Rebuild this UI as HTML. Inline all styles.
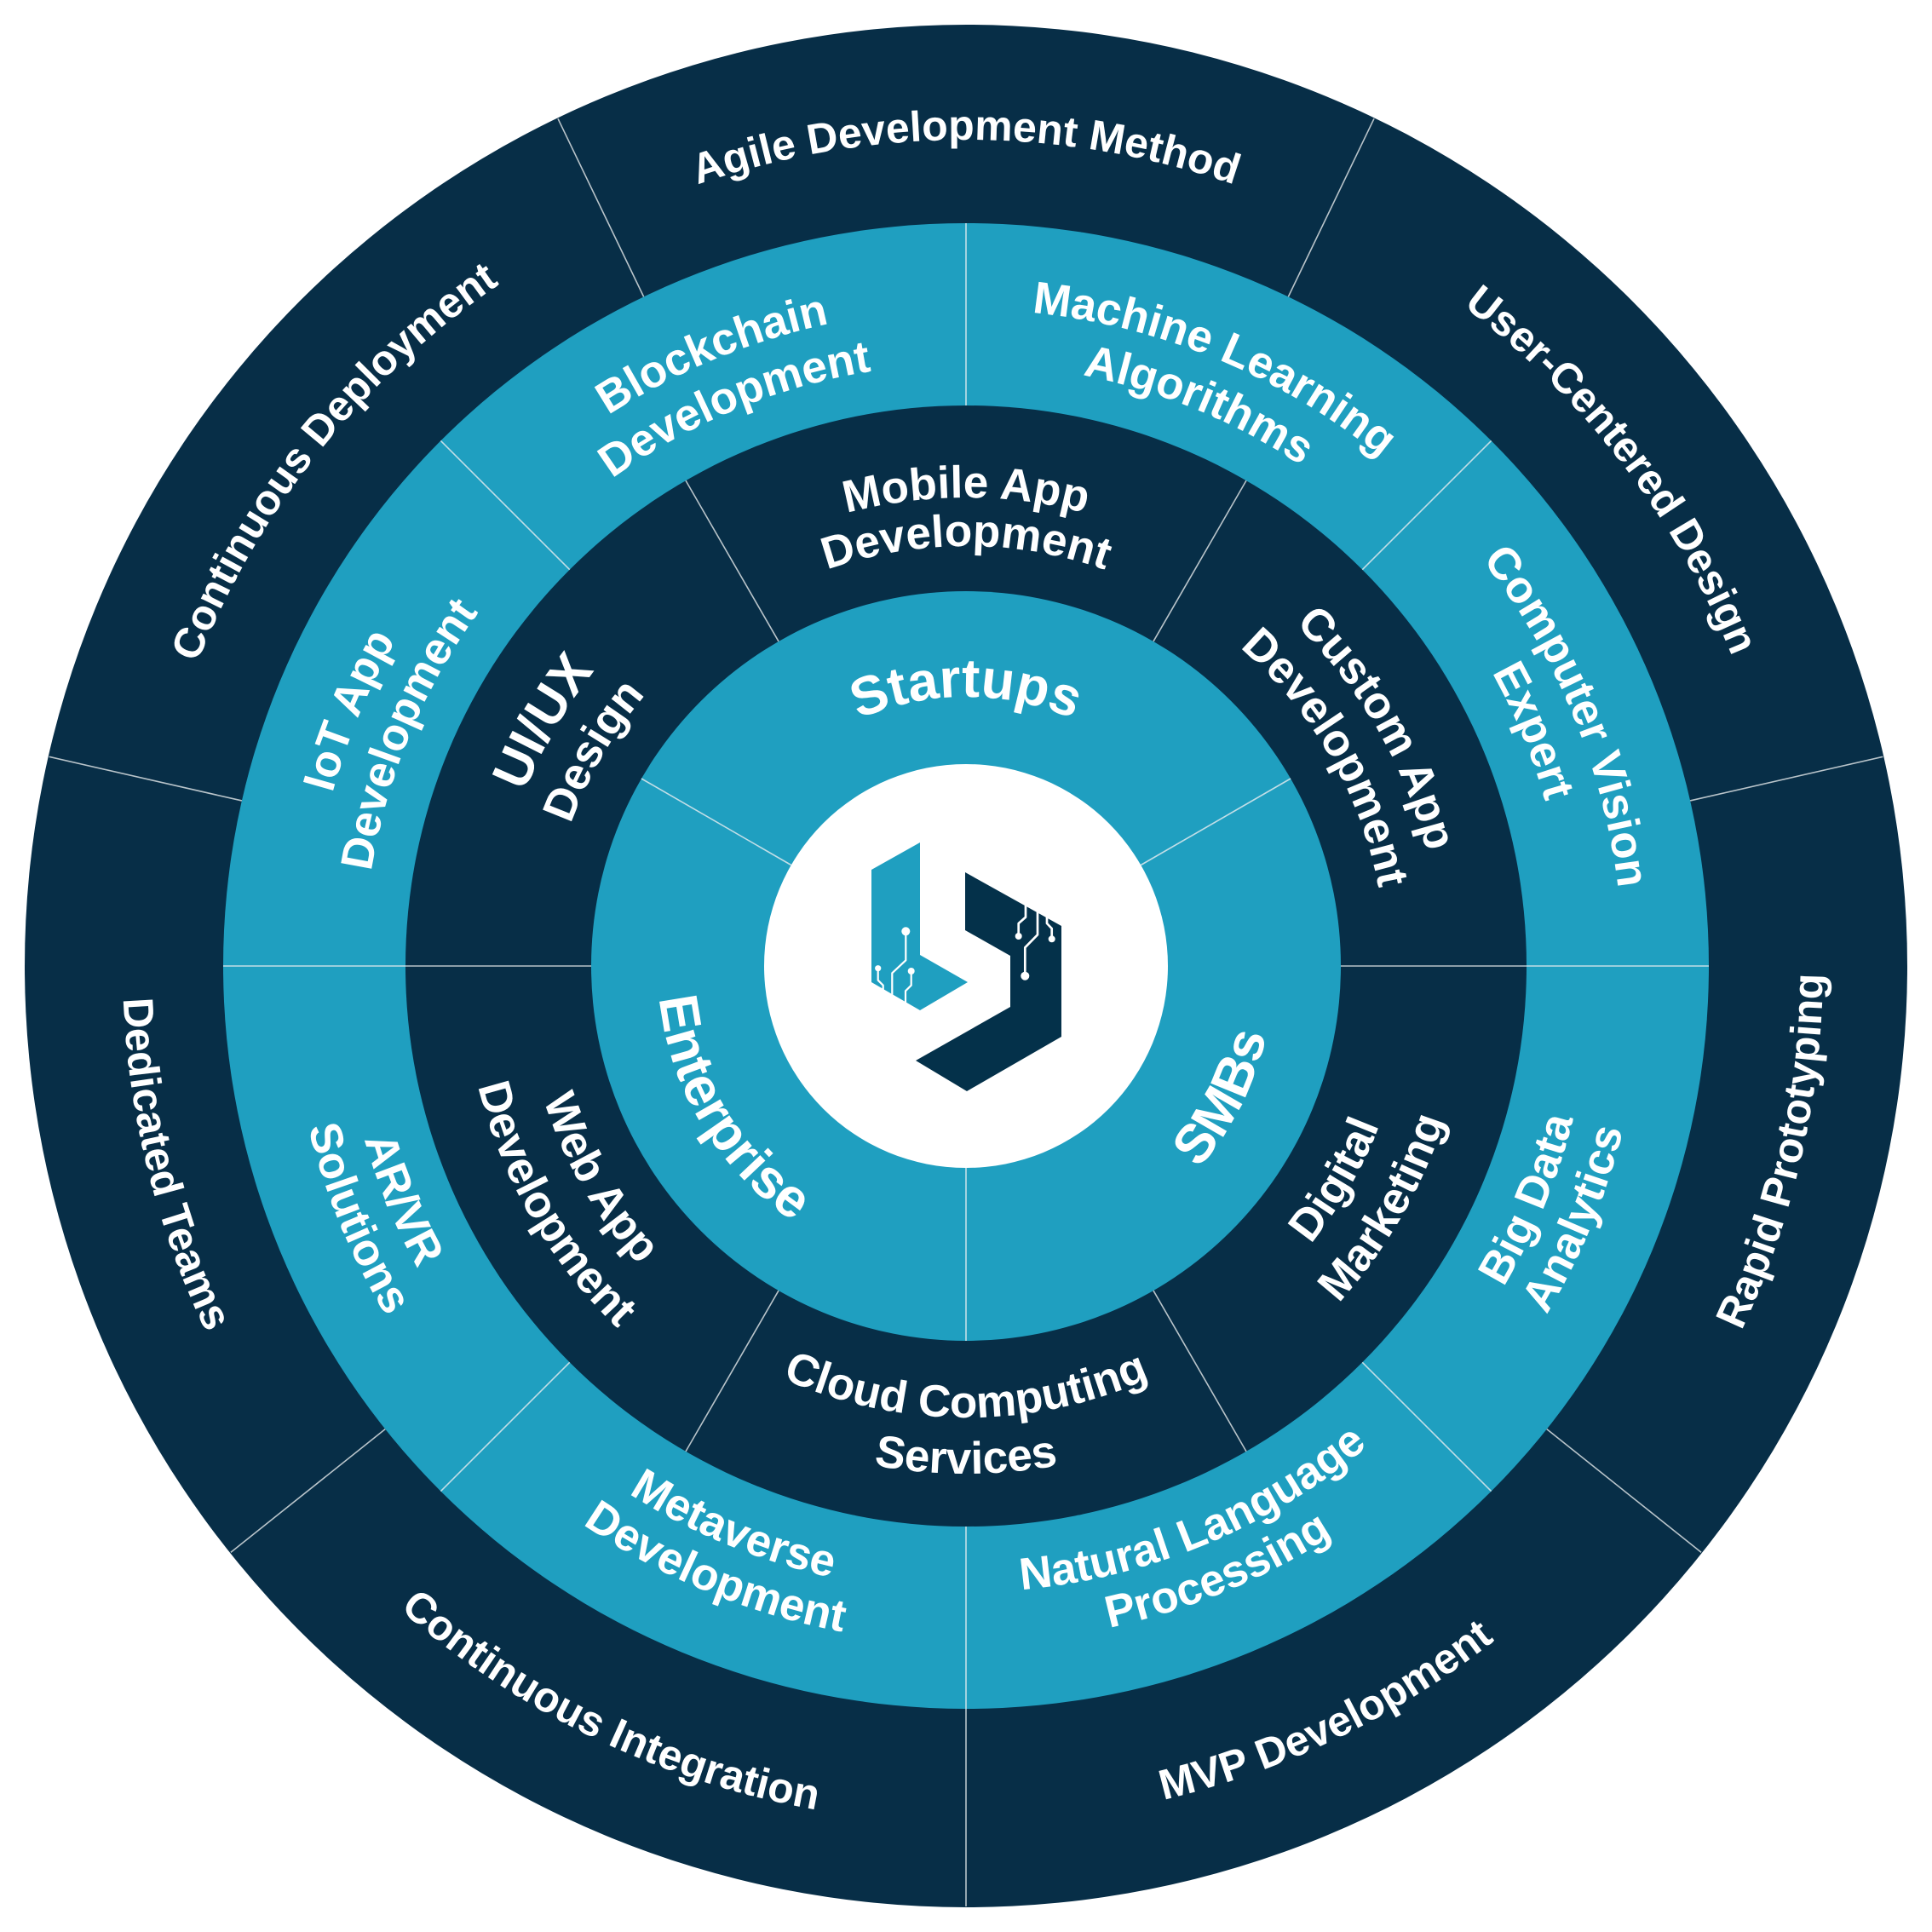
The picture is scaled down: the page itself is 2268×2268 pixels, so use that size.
<!DOCTYPE html>
<html>
<head>
<meta charset="utf-8">
<style>
  html,body{margin:0;padding:0;background:#ffffff;}
  svg{display:block;}
  text{font-family:"Liberation Sans",Arial,sans-serif;font-weight:bold;fill:#ffffff;text-anchor:middle;}
  .o{font-size:50px;}
  .m{font-size:53px;}
  .c{font-size:64px;}
  .u{font-size:62px;}
  .dv{stroke:#dfe9ee;stroke-width:1.6;opacity:0.85;}
  .dvo{stroke:#b9c4ca;stroke-width:1.6;}
</style>
</head>
<body>
<svg width="2268" height="2268" viewBox="0 0 2268 2268" xmlns="http://www.w3.org/2000/svg">
  <defs>
    <path id="t970" d="M167.70 1049.45 A970 970 0 0 1 2100.30 1049.45"/>
    <path id="t771" d="M365.94 1066.80 A771 771 0 0 1 1902.06 1066.80"/>
    <path id="t707" d="M429.69 1072.38 A707 707 0 0 1 1838.31 1072.38"/>
    <path id="t557" d="M579.12 1085.45 A557 557 0 0 1 1688.88 1085.45"/>
    <path id="t550" d="M586.10 1086.06 A550 550 0 0 1 1681.90 1086.06"/>
    <path id="t493" d="M642.88 1091.03 A493 493 0 0 1 1625.12 1091.03"/>
    <path id="t316" d="M819.20 1106.46 A316 316 0 0 1 1448.80 1106.46"/>
    <path id="b1006" d="M131.83 1221.68 A1006 1006 0 0 0 2136.17 1221.68"/>
    <path id="b990" d="M147.77 1220.29 A990 990 0 0 0 2120.23 1220.29"/>
    <path id="b735" d="M401.80 1198.06 A735 735 0 0 0 1866.20 1198.06"/>
    <path id="b795" d="M342.03 1203.29 A795 795 0 0 0 1925.97 1203.29"/>
    <path id="b520" d="M615.98 1179.32 A520 520 0 0 0 1652.02 1179.32"/>
    <path id="b530" d="M606.02 1180.19 A530 530 0 0 0 1661.98 1180.19"/>
    <path id="b590" d="M546.25 1185.42 A590 590 0 0 0 1721.75 1185.42"/>
    <path id="b596" d="M540.27 1185.95 A596 596 0 0 0 1727.73 1185.95"/>
    <path id="b362" d="M773.38 1165.55 A362 362 0 0 0 1494.62 1165.55"/>
  </defs>

  <!-- rings -->
  <circle cx="1134" cy="1134" r="1105" fill="#072e47"/>
  <circle cx="1134" cy="1134" r="872" fill="#1f9fc0"/>
  <circle cx="1134" cy="1134" r="658" fill="#072e47"/>
  <circle cx="1134" cy="1134" r="440" fill="#1f9fc0"/>
  <circle cx="1134" cy="1134" r="237" fill="#ffffff"/>

  <!-- outer ring dividers -->
  <g class="dvo">
    <line x1="1512.34" y1="348.35" x2="1613.00" y2="139.33"/>
    <line x1="1984.14" y1="939.96" x2="2210.32" y2="888.34"/>
    <line x1="1815.76" y1="1677.68" x2="1997.14" y2="1822.33"/>
    <line x1="1134" y1="2006" x2="1134" y2="2238"/>
    <line x1="452.24" y1="1677.68" x2="270.86" y2="1822.33"/>
    <line x1="283.86" y1="939.96" x2="57.68" y2="888.34"/>
    <line x1="755.66" y1="348.35" x2="655.00" y2="139.33"/>
  </g>
  <!-- teal ring dividers -->
  <g class="dv">
    <line x1="1134" y1="476" x2="1134" y2="262"/>
    <line x1="1599.28" y1="668.72" x2="1750.60" y2="517.40"/>
    <line x1="1792" y1="1134" x2="2006" y2="1134"/>
    <line x1="1599.28" y1="1599.28" x2="1750.60" y2="1750.60"/>
    <line x1="1134" y1="1792" x2="1134" y2="2006"/>
    <line x1="668.72" y1="1599.28" x2="517.40" y2="1750.60"/>
    <line x1="476" y1="1134" x2="262" y2="1134"/>
    <line x1="668.72" y1="668.72" x2="517.40" y2="517.40"/>
  </g>
  <!-- dark inner ring dividers -->
  <g class="dvo">
    <line x1="1354" y1="752.95" x2="1463" y2="564.15"/>
    <line x1="1574" y1="1134" x2="1792" y2="1134"/>
    <line x1="1354" y1="1515.05" x2="1463" y2="1703.85"/>
    <line x1="914" y1="1515.05" x2="805" y2="1703.85"/>
    <line x1="694" y1="1134" x2="476" y2="1134"/>
    <line x1="914" y1="752.95" x2="805" y2="564.15"/>
  </g>
  <!-- innermost dividers -->
  <g class="dv">
    <line x1="1339.25" y1="1015.5" x2="1515.05" y2="914"/>
    <line x1="1134" y1="1371" x2="1134" y2="1574"/>
    <line x1="928.75" y1="1015.5" x2="752.95" y2="914"/>
  </g>

  <!-- OUTER LABELS -->
  <g transform="rotate(0 1134 1134)"><text class="o"><textPath href="#t970" startOffset="50%">Agile Development Method</textPath></text></g>
  <g transform="rotate(52.5 1134 1134)"><text class="o"><textPath href="#t970" startOffset="50%">User-Centered Design</textPath></text></g>
  <g transform="rotate(-77.14 1134 1134)"><text class="o"><textPath href="#b1006" startOffset="50%">Rapid Prototyping</textPath></text></g>
  <g transform="rotate(-25.71 1134 1134)"><text class="o"><textPath href="#b1006" startOffset="50%">MVP Development</textPath></text></g>
  <g transform="rotate(25.71 1134 1134)"><text class="o"><textPath href="#b1006" startOffset="50%">Continuous Integration</textPath></text></g>
  <g transform="rotate(76 1134 1134)"><text class="o"><textPath href="#b990" startOffset="50%">Dedicated Teams</textPath></text></g>
  <g transform="rotate(-51.43 1134 1134)"><text class="o"><textPath href="#t970" startOffset="50%">Continuous Deployment</textPath></text></g>

  <!-- TEAL RING LABELS -->
  <g transform="rotate(22.5 1134 1134)">
    <text class="m"><textPath href="#t771" startOffset="50%">Machine Learning</textPath></text>
    <text class="m"><textPath href="#t707" startOffset="50%">Algorithms</textPath></text>
  </g>
  <g transform="rotate(67.5 1134 1134)">
    <text class="m"><textPath href="#t771" startOffset="50%">Computer Vision</textPath></text>
    <text class="m"><textPath href="#t707" startOffset="50%">Expert</textPath></text>
  </g>
  <g transform="rotate(-67.5 1134 1134)">
    <text class="m"><textPath href="#b735" startOffset="50%">Big Data</textPath></text>
    <text class="m"><textPath href="#b795" startOffset="50%">Analytics</textPath></text>
  </g>
  <g transform="rotate(-22.5 1134 1134)">
    <text class="m"><textPath href="#b735" startOffset="50%">Natural Language</textPath></text>
    <text class="m"><textPath href="#b795" startOffset="50%">Processing</textPath></text>
  </g>
  <g transform="rotate(22.5 1134 1134)">
    <text class="m"><textPath href="#b735" startOffset="50%">Metaverse</textPath></text>
    <text class="m"><textPath href="#b795" startOffset="50%">Development</textPath></text>
  </g>
  <g transform="rotate(67.5 1134 1134)">
    <text class="m"><textPath href="#b735" startOffset="50%">AR/VR</textPath></text>
    <text class="m"><textPath href="#b795" startOffset="50%">Solutions</textPath></text>
  </g>
  <g transform="rotate(-67.5 1134 1134)">
    <text class="m"><textPath href="#t771" startOffset="50%">IoT App</textPath></text>
    <text class="m"><textPath href="#t707" startOffset="50%">Development</textPath></text>
  </g>
  <g transform="rotate(-22.5 1134 1134)">
    <text class="m"><textPath href="#t771" startOffset="50%">Blockchain</textPath></text>
    <text class="m"><textPath href="#t707" startOffset="50%">Development</textPath></text>
  </g>

  <!-- DARK INNER RING LABELS -->
  <g transform="rotate(0 1134 1134)">
    <text class="m"><textPath href="#t550" startOffset="50%">Mobile App</textPath></text>
    <text class="m"><textPath href="#t493" startOffset="50%">Development</textPath></text>
  </g>
  <g transform="rotate(60 1134 1134)">
    <text class="m"><textPath href="#t557" startOffset="50%">Custom App</textPath></text>
    <text class="m"><textPath href="#t493" startOffset="50%">Development</textPath></text>
  </g>
  <g transform="rotate(-60 1134 1134)">
    <text class="m"><textPath href="#b520" startOffset="50%">Digital</textPath></text>
    <text class="m"><textPath href="#b590" startOffset="50%">Marketing</textPath></text>
  </g>
  <g transform="rotate(0 1134 1134)">
    <text class="m"><textPath href="#b530" startOffset="50%">Cloud Computing</textPath></text>
    <text class="m"><textPath href="#b596" startOffset="50%">Services</textPath></text>
  </g>
  <g transform="rotate(60 1134 1134)">
    <text class="m"><textPath href="#b520" startOffset="50%">Web App</textPath></text>
    <text class="m"><textPath href="#b590" startOffset="50%">Development</textPath></text>
  </g>
  <g transform="rotate(-60 1134 1134)">
    <text class="u"><textPath href="#t557" startOffset="50%">UI/UX</textPath></text>
    <text class="m"><textPath href="#t493" startOffset="50%">Design</textPath></text>
  </g>

  <!-- INNERMOST LABELS -->
  <g transform="rotate(0 1134 1134)"><text class="c"><textPath href="#t316" startOffset="50%">Startups</textPath></text></g>
  <g transform="rotate(-63 1134 1134)"><text class="c"><textPath href="#b362" startOffset="50%">SMBs</textPath></text></g>
  <g transform="rotate(59 1134 1134)"><text class="c"><textPath href="#b362" startOffset="50%">Enterprise</textPath></text></g>

  <!-- LOGO -->
  <polygon points="1023,1021 1080,989 1080,1121 1136,1153 1080,1186 1023,1153" fill="#1f9fc0"/>
  <polygon points="1133,1024 1246,1087 1246,1217 1135,1281 1075,1245 1186,1182 1186,1122 1133,1092" fill="#04314a"/>
  <g fill="none" stroke="#ffffff" stroke-width="2.2" stroke-linejoin="round">
    <polyline points="1063.3,1093.3 1063.3,1127.3 1047.3,1142.3 1047.3,1168"/>
    <polyline points="1030.7,1136.7 1030.7,1150.7 1036.7,1156.7 1036.7,1162"/>
    <polyline points="1069.7,1140 1069.7,1156.7 1063,1163.3 1063,1177.5"/>
  </g>
  <g fill="#ffffff">
    <circle cx="1063.3" cy="1093.3" r="5"/>
    <circle cx="1030.7" cy="1136.7" r="3.6"/>
    <circle cx="1069.7" cy="1140" r="4"/>
  </g>
  <g fill="none" stroke="#ffffff" stroke-width="2.7" stroke-linejoin="round">
    <polyline points="1204,1063 1204,1076.7 1195.7,1084 1195.7,1099"/>
    <polyline points="1218,1070 1218,1097.3 1203.3,1112.3 1203.3,1145.7"/>
    <polyline points="1229,1076 1229,1084 1234.7,1090 1234.7,1102.3"/>
  </g>
  <g fill="#ffffff">
    <circle cx="1195.7" cy="1099" r="4"/>
    <circle cx="1203.3" cy="1145.7" r="5"/>
    <circle cx="1234.7" cy="1102.3" r="4"/>
  </g>
</svg>
</body>
</html>
